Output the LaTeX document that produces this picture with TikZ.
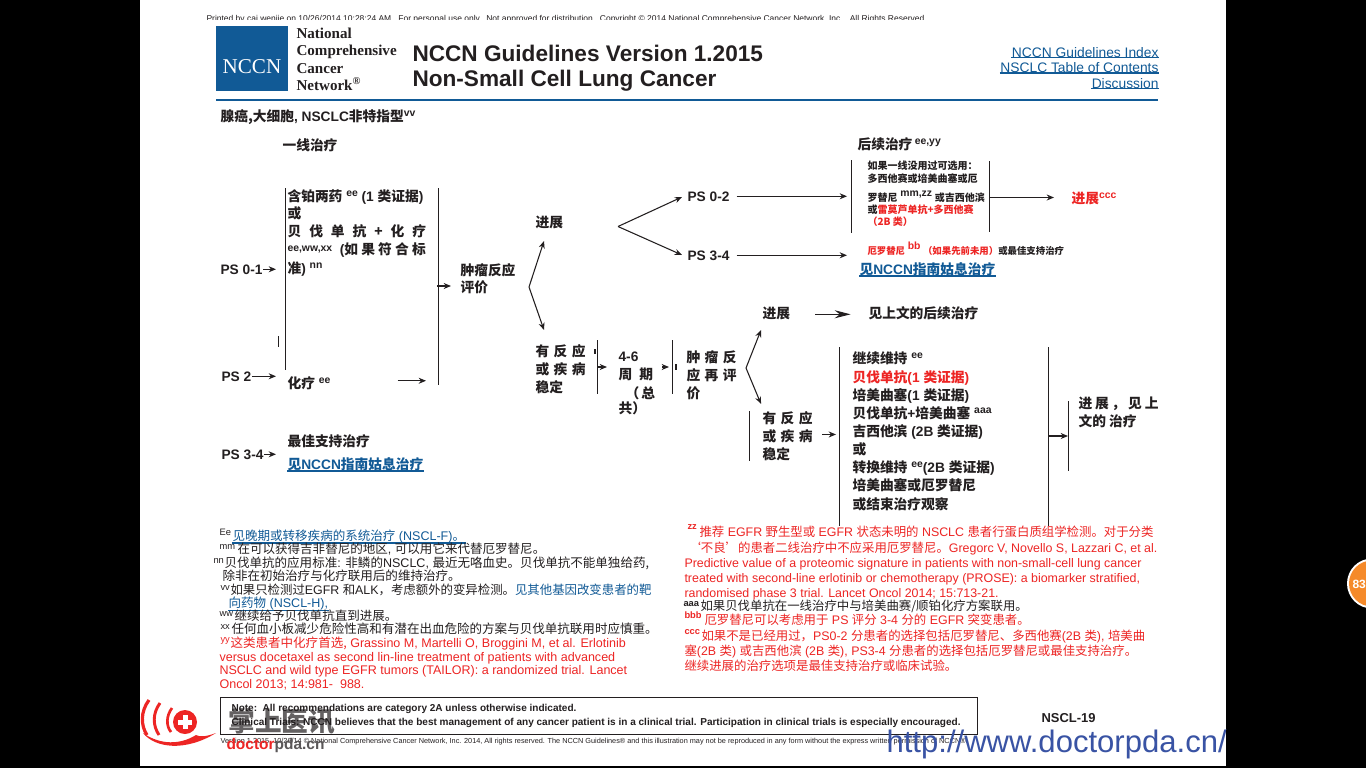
\documentclass[tikz,border=0pt]{standalone}
\usepackage{fontspec}
\setmainfont{Liberation Sans}
\newfontfamily\cjk{Noto Sans CJK SC}
\newfontfamily\logoserif{Liberation Serif}
\usetikzlibrary{arrows,arrows.meta}
\definecolor{nccnblue}{HTML}{115A96}
\definecolor{nccnred}{HTML}{ED2524}
\definecolor{inkblack}{HTML}{231F20}
\definecolor{webblue}{HTML}{3953A4}
\definecolor{badgeorange}{HTML}{F58A2A}
\newcommand{\zh}[1]{{\cjk #1}}
\newcommand{\spread}[2]{\makebox[#1][s]{\zh{#2}}}
\newcommand{\sps}[1]{\raisebox{3.6pt}{\fontsize{7.8}{9}\selectfont #1}}

\begin{document}
\begin{tikzpicture}[x=.75pt,y=-.75pt,->,>={Stealth[length=5.5pt,width=4.5pt]},line width=.8pt,color=inkblack]
	\tikzstyle{every node}=[inner sep=0pt,text=inkblack]
	\tikzstyle{lbl}=[anchor=base west,font=\fontsize{10.3}{12}\selectfont\bfseries]
	\tikzstyle{tiny}=[anchor=base west,font=\fontsize{7.5}{9}\selectfont\bfseries]
	\tikzstyle{foot}=[anchor=base west,font=\fontsize{9.4}{11}\selectfont]
	\tikzstyle{footr}=[anchor=base west,font=\fontsize{9.3}{11}\selectfont]
	\tikzstyle{sup}=[anchor=base west,font=\fontsize{7}{8}\selectfont]
	\tikzstyle{supb}=[anchor=base west,font=\fontsize{7}{8}\selectfont\bfseries]
	\tikzstyle{link}=[text=nccnblue]
	\tikzstyle{alert}=[text=nccnred]
	\tikzstyle{bar}=[-,line width=.9pt]
	\tikzstyle{rule}=[-,draw=nccnblue,line width=1.1pt]
	\useasboundingbox (0,0) rectangle (1366,768);

	% page
	\fill[black] (0,0) rectangle (1366,768);
	\fill[white] (140,0) rectangle (1226,766);

	% header
	\node[anchor=base west,font=\fontsize{6.36}{8}\selectfont] (printed) at (206,21) {Printed by cai wenjie on 10/26/2014 10:28:24 AM.\ \ For personal use only.\ \ Not approved for distribution.\ \ Copyright © 2014 National Comprehensive Cancer Network, Inc.,\ \ All Rights Reserved.};
	\fill[white] (200,20) rectangle (930,25);
	\fill[nccnblue] (216,26) rectangle (288,91);
	\node[text=white,font=\logoserif\fontsize{15.8}{18}\selectfont] (logo) at (252,66.5) {NCCN};
	\node[anchor=base west,font=\logoserif\fontsize{11.3}{13}\selectfont\bfseries] (org1) at (296,38) {National};
	\node[anchor=base west,font=\logoserif\fontsize{11.3}{13}\selectfont\bfseries] (org2) at (296,55) {Comprehensive};
	\node[anchor=base west,font=\logoserif\fontsize{11.3}{13}\selectfont\bfseries] (org3) at (296,73) {Cancer};
	\node[anchor=base west,font=\logoserif\fontsize{11.3}{13}\selectfont\bfseries] (org4) at (296,90) {Network\textsuperscript{®}};
	\node[anchor=base west,font=\fontsize{16.95}{20}\selectfont\bfseries] (title1) at (412,61) {NCCN Guidelines Version 1.2015};
	\node[anchor=base west,font=\fontsize{16.95}{20}\selectfont\bfseries] (title2) at (412,86) {Non-Small Cell Lung Cancer};
	\node[anchor=base east,link,font=\fontsize{10.35}{12}\selectfont] (idx) at (1159,57) {NCCN Guidelines Index};
	\node[anchor=base east,link,font=\fontsize{10.35}{12}\selectfont] (toc) at (1159,72.5) {NSCLC Table of Contents};
	\node[anchor=base east,link,font=\fontsize{10.35}{12}\selectfont] (disc) at (1159,88) {Discussion};
	\draw[rule] (idx.south west) -- (idx.south east);
	\draw[rule] (toc.south west) -- (toc.south east);
	\draw[rule] (disc.south west) -- (disc.south east);
	\coordinate (hrl) at (216,100);
	\coordinate (hrr) at (1158,100);
	\draw[rule,line width=2.2pt] (hrl) -- (hrr);
	\node[lbl] (sub) at (220,121) {\zh{腺癌,大细胞}, NSCLC\zh{非特指型}\sps{vv}};
	\node[lbl] (first) at (282,150) {\zh{一线治疗}};
	\node[lbl] (later) at (857,149) {\zh{后续治疗}\,\sps{ee,yy}};

	% first line
	\node[lbl] (ps01) at (220,274) {PS 0-1};
	\node[lbl] (ps2) at (221,381) {PS 2};
	\node[lbl] (ps34) at (221,459) {PS 3-4};
	\node[lbl] (a1) at (287,201) {\zh{含铂两药} \sps{ee} (1 \zh{类证据})};
	\node[lbl] (a2) at (287,218) {\zh{或}};
	\node[lbl] (a3) at (287,236) {\spread{104pt}{贝 伐 单 抗 + 化 疗}};
	\node[lbl] (a4) at (287,254) {\raisebox{2pt}{\fontsize{7.8}{9}\selectfont ee,ww,xx}\ \ (\spread{61pt}{如 果 符 合 标}};
	\node[lbl] (a5) at (287,273) {\zh{准}) \sps{nn}};
	\node[lbl] (chemo) at (287,388) {\zh{化疗} \sps{ee}};
	\node[lbl] (bsc) at (287,446) {\zh{最佳支持治疗}};
	\node[lbl,link] (pall1) at (287,469) {\zh{见}NCCN\zh{指南姑息治疗}};
	\draw[rule] (pall1.south west) -- (pall1.south east);
	\coordinate (barat) at (285.5,188);
	\coordinate (barab) at (285.5,370);
	\coordinate (barbt) at (438.5,188);
	\coordinate (barbb) at (438.5,385);
	\coordinate (ticka) at (278.5,336);
	\coordinate (tickb) at (278.5,347);
	\draw[bar] (barat) -- (barab);
	\draw[bar] (barbt) -- (barbb);
	\draw[bar] (ticka) -- (tickb);
	\coordinate (pse) at (276,0);
	\coordinate (chemoe) at (426,0);
	\path (ps01.east) edge (ps01.east -| pse)
	      (ps2.east) edge (ps2.east -| pse)
	      (ps34.east) edge (ps34.east -| pse);
	\draw[shorten <=50pt] ([yshift=1.5pt]chemo.east) -- ([yshift=1.5pt]chemo.east -| chemoe);

	% response
	\node[lbl] (eval1) at (460,275) {\spread{43.5pt}{肿瘤反应}};
	\node[lbl] (eval2) at (460,292) {\zh{评价}};
	\node[lbl] (prog1) at (535,227) {\zh{进展}};
	\node[lbl] (resp1) at (535,356) {\spread{37.5pt}{有 反 应}};
	\node[lbl] (resp2) at (535,374) {\spread{37.5pt}{或 疾 病}};
	\node[lbl] (resp3) at (535,392) {\zh{稳定}};
	\coordinate (evalb) at (437,286);
	\coordinate (evalt) at (451,286);
	\coordinate (forka) at (529,287);
	\coordinate (forkau) at (544,241);
	\coordinate (forkad) at (544,330);
	\coordinate (forkb) at (618,226.5);
	\coordinate (forkbu) at (682,197);
	\coordinate (forkbd) at (682,255);
	\path (evalb) edge (evalt)
	      (forka) edge (forkau)
	      (forka) edge (forkad)
	      (forkb) edge (forkbu)
	      (forkb) edge (forkbd);

	% subsequent therapy
	\node[lbl] (ps02b) at (687,201) {PS 0-2};
	\node[lbl] (ps34b) at (687,260) {PS 3-4};
	\coordinate (subin) at (847,0);
	\draw[shorten <=5pt] (ps02b.east) -- (ps02b.east -| subin);
	\draw[shorten <=5pt] (ps34b.east) -- (ps34b.east -| subin);
	\coordinate (barct) at (851.5,160);
	\coordinate (barcb) at (851.5,233);
	\coordinate (bardt) at (989.5,161);
	\coordinate (bardb) at (989.5,232);
	\draw[bar] (barct) -- (barcb);
	\draw[bar] (bardt) -- (bardb);
	\node[tiny] (s1) at (867,169.5) {\zh{如果一线没用过可选用：}};
	\node[tiny] (s2) at (867,182) {\zh{多西他赛或培美曲塞或厄}};
	\node[tiny] (s3) at (867,201) {\zh{罗替尼} \raisebox{3.5pt}{\fontsize{7.8}{9}\selectfont mm,zz} \zh{或吉西他滨}};
	\node[tiny] (s4) at (867,213) {\zh{或}{\color{nccnred}\zh{雷莫芦单抗+多西他赛}}};
	\node[tiny,alert] (s5) at (867,225) {\zh{（2B 类）}};
	\node[tiny,font=\fontsize{7.05}{9}\selectfont\bfseries] (s6) at (867,254) {{\color{nccnred}\zh{厄罗替尼} \raisebox{3.5pt}{\fontsize{7.8}{9}\selectfont bb}\ \zh{（如果先前未用）}}\zh{或最佳支持治疗}};
	\node[lbl,link] (pall2) at (859,274) {\zh{见}NCCN\zh{指南姑息治疗}};
	\draw[rule] (pall2.south west) -- (pall2.south east);
	\coordinate (barm) at (990,197.5);
	\coordinate (barn) at (1054,197.5);
	\draw (barm) -- (barn);
	\node[lbl,alert] (prog2) at (1071,203) {\zh{进展}\sps{ccc}};

	% maintenance
	\coordinate (bare) at (597.5,340);
	\coordinate (barf) at (597.5,394);
	\coordinate (barg) at (672.5,340);
	\coordinate (barh) at (672.5,394);
	\coordinate (tickc) at (595,349);
	\coordinate (tickd) at (595,354);
	\coordinate (ticke) at (676,364);
	\coordinate (tickf) at (676,370);
	\draw[bar] (bare) -- (barf);
	\draw[bar] (barg) -- (barh);
	\draw[bar] (tickc) -- (tickd);
	\draw[bar] (ticke) -- (tickf);
	\coordinate (cyca) at (598,367);
	\coordinate (cycb) at (607,367);
	\coordinate (cycc) at (662,367);
	\coordinate (cycd) at (669,367);
	\path (cyca) edge (cycb)
	      (cycc) edge (cycd);
	\node[lbl] (cyc1) at (618,361) {4-6};
	\node[lbl] (cyc2) at (618,379) {\spread{26pt}{周 期}};
	\node[lbl] (cyc3) at (625,398) {\spread{21pt}{（ 总}};
	\node[lbl] (cyc4) at (618,413) {\zh{共）}};
	\node[lbl] (re1) at (686,362) {\spread{37.5pt}{肿 瘤 反}};
	\node[lbl] (re2) at (686,380) {\spread{37.5pt}{应 再 评}};
	\node[lbl] (re3) at (686,398) {\zh{价}};
	\coordinate (forkc) at (746,368);
	\coordinate (forkcu) at (761,330);
	\coordinate (forkcd) at (761,404);
	\path (forkc) edge (forkcu)
	      (forkc) edge (forkcd);
	\node[lbl] (prog3) at (762,318) {\zh{进展}};
	\node[lbl] (seeup) at (868,318) {\zh{见上文的后续治疗}};
	\draw[-{Stealth[length=12pt,width=6pt]},shorten <=18.5pt,shorten >=13pt] ([yshift=-1pt]prog3.east) -- ([yshift=-1pt]prog3.east -| seeup.west);
	\coordinate (bari) at (749.5,411);
	\coordinate (barj) at (749.5,461);
	\draw[bar] (bari) -- (barj);
	\node[lbl] (st1) at (762,423) {\spread{37.5pt}{有 反 应}};
	\node[lbl] (st2) at (762,441) {\spread{37.5pt}{或 疾 病}};
	\node[lbl] (st3) at (762,459) {\zh{稳定}};
	\coordinate (stb) at (836,0);
	\draw[shorten <=7pt] ([yshift=1pt]st2.east) -- ([yshift=1pt]st2.east -| stb);
	\coordinate (bark) at (839.5,347);
	\coordinate (barl) at (839.5,526);
	\coordinate (barp) at (1048.5,347);
	\coordinate (barq) at (1048.5,526);
	\draw[bar] (bark) -- (barl);
	\draw[bar] (barp) -- (barq);
	\node[lbl] (m1) at (852,363) {\zh{继续维持} \sps{ee}};
	\node[lbl,alert] (m2) at (852,382) {\zh{贝伐单抗}(1 \zh{类证据})};
	\node[lbl] (m3) at (852,400) {\zh{培美曲塞}(1 \zh{类证据})};
	\node[lbl] (m4) at (852,418) {\zh{贝伐单抗}+\zh{培美曲塞} \sps{aaa}};
	\node[lbl] (m5) at (852,436) {\zh{吉西他滨} (2B \zh{类证据})};
	\node[lbl] (m6) at (852,454) {\zh{或}};
	\node[lbl] (m7) at (852,472) {\zh{转换维持} \sps{ee}(2B \zh{类证据})};
	\node[lbl] (m8) at (852,490) {\zh{培美曲塞或厄罗替尼}};
	\node[lbl] (m9) at (852,509) {\zh{或结束治疗观察}};
	\coordinate (barr) at (1049,436);
	\coordinate (bars) at (1068,436);
	\draw (barr) -- (bars);
	\coordinate (bart) at (1068.5,401);
	\coordinate (baru) at (1068.5,471);
	\draw[bar] (bart) -- (baru);
	\node[lbl] (end1) at (1078,408) {\spread{60pt}{进 展 ， 见 上}};
	\node[lbl] (end2) at (1078,426) {\zh{文的 治疗}};

	% footnotes, left column
	\node[sup] (fe) at (219,535) {Ee};
	\node[foot,link] (f1) at (232,540) {\zh{见晚期或转移疾病的系统治疗} (NSCL-F)\zh{。}};
	\draw[rule] (f1.south west) -- (f1.south east);
	\node[sup] (fm) at (219,549) {mm};
	\node[foot] (f2) at (237,553.5) {\zh{在可以获得吉非替尼的地区}, \zh{可以用它来代替厄罗替尼。}};
	\node[sup] (fn) at (213,563) {nn};
	\node[foot] (f3) at (224,567.5) {\zh{贝伐单抗的应用标准}: \zh{非鳞的}NSCLC, \zh{最近无咯血史。贝伐单抗不能单独给药,}};
	\node[foot] (f4) at (222,580.5) {\zh{除非在初始治疗与化疗联用后的维持治疗。}};
	\node[sup] (fv) at (220,590) {vv};
	\node[foot,font=\fontsize{9.3}{11}\selectfont] (f5) at (230,594.5) {\zh{如果只检测过}EGFR \zh{和}ALK\zh{，考虑额外的变异检测。}{\color{nccnblue}\zh{见其他基因改变患者的靶}}};
	\node[foot,link] (f6) at (228,607.5) {\zh{向药物} (NSCL-H),};
	\draw[rule] (f6.south west) -- (f6.south east);
	\node[sup] (fw) at (219,616) {ww};
	\node[foot] (f7) at (234,620.5) {\zh{继续给予贝伐单抗直到进展。}};
	\node[sup] (fx) at (220,629) {xx};
	\node[foot] (f8) at (231,633.5) {\zh{任何血小板减少危险性高和有潜在出血危险的方案与贝伐单抗联用时应慎重。}};
	\node[sup,alert] (fy) at (220,642) {yy};
	\node[foot,alert] (f9) at (230,647.5) {\zh{这类患者中化疗首选,} Grassino M, Martelli O, Broggini M, et al. Erlotinib};
	\node[foot,alert] (f10) at (219,661) {versus docetaxel as second lin-line treatment of patients with advanced};
	\node[foot,alert] (f11) at (219,674.5) {NSCLC and wild type EGFR tumors (TAILOR): a randomized trial. Lancet};
	\node[foot,alert] (f12) at (219,688) {Oncol 2013; 14:981-\ \ 988.};

	% footnotes, right column
	\node[supb,alert] (fz) at (687,529) {zz};
	\node[footr,alert] (g1) at (699,536.5) {\zh{推荐} EGFR \zh{野生型或} EGFR \zh{状态未明的} NSCLC \zh{患者行蛋白质组学检测。对于分类}};
	\node[footr,alert] (g2) at (688,552.5) {\zh{‘不良’的患者二线治疗中不应采用厄罗替尼。}Gregorc V, Novello S, Lazzari C, et al.};
	\node[footr,alert] (g3) at (684,567.5) {Predictive value of a proteomic signature in patients with non-small-cell lung cancer};
	\node[footr,alert] (g4) at (684,582.5) {treated with second-line erlotinib or chemotherapy (PROSE): a biomarker stratified,};
	\node[footr,alert] (g5) at (684,597.5) {randomised phase 3 trial. Lancet Oncol 2014; 15:713-21.};
	\node[supb] (ga) at (683,606) {aaa};
	\node[footr] (g6) at (700,610.5) {\zh{如果贝伐单抗在一线治疗中与培美曲赛/顺铂化疗方案联用。}};
	\node[supb,alert] (gb) at (684,618) {bbb};
	\node[footr,alert] (g7) at (704,624.5) {\zh{厄罗替尼可以考虑用于} PS \zh{评分} 3-4 \zh{分的} EGFR \zh{突变患者。}};
	\node[supb,alert] (gc) at (684,634) {ccc};
	\node[footr,alert] (g8) at (701,640.5) {\zh{如果不是已经用过，}PS0-2 \zh{分患者的选择包括厄罗替尼、多西他赛}(2B \zh{类}), \zh{培美曲}};
	\node[footr,alert] (g9) at (684,655.5) {\zh{塞}(2B \zh{类}) \zh{或吉西他滨} (2B \zh{类}), PS3-4 \zh{分患者的选择包括厄罗替尼或最佳支持治疗。}};
	\node[footr,alert] (g10) at (684,670.5) {\zh{继续进展的治疗选项是最佳支持治疗或临床试验。}};

	% note box and footer
	\coordinate (boxa) at (220,697);
	\coordinate (boxb) at (977,734);
	\draw[-,line width=.7pt] (boxa) rectangle (boxb);
	\node[anchor=base west,font=\fontsize{7.52}{9}\selectfont\bfseries] (note1) at (231,711.5) {Note:\ \ All recommendations are category 2A unless otherwise indicated.};
	\node[anchor=base west,font=\fontsize{7.52}{9}\selectfont\bfseries] (note2) at (231,725.5) {Clinical Trials: NCCN believes that the best management of any cancer patient is in a clinical trial. Participation in clinical trials is especially encouraged.};
	\node[anchor=base west,font=\fontsize{9.7}{11}\selectfont\bfseries] (page) at (1041,722) {NSCL-19};
	\node[anchor=base west,font=\fontsize{5.48}{7}\selectfont] (ver) at (220,743.5) {Version 1.2015, 10/26/14 © National Comprehensive Cancer Network, Inc. 2014, All rights reserved. The NCCN Guidelines® and this illustration may not be reproduced in any form without the express written permission of NCCN®.};

	% watermark
	\draw[-,draw=nccnred,line width=2pt] (172,708) .. controls (166,716) and (166,726) .. (171,732);
	\draw[-,draw=nccnred,line width=2.2pt] (160,703) .. controls (152,714) and (153,726) .. (159,735);
	\draw[-,draw=nccnred,line width=2.4pt] (149,700) .. controls (140,712) and (141,726) .. (147,735);
	\fill[nccnred] (143,733) .. controls (155,748) and (185,752) .. (216,733) .. controls (205,737) and (200,737) .. (196,735) .. controls (180,745) and (160,745) .. (143,733);
	\fill[nccnred] (185,722) circle (12);
	\fill[white] (178,719.5) rectangle (192,724.5);
	\fill[white] (182.5,715) rectangle (187.5,729);
	\node[anchor=base west,opacity=.7,font=\cjk\fontsize{20}{24}\selectfont\bfseries] (brand) at (228,731) {掌上医讯};
	\node[anchor=base west,font=\fontsize{11.6}{15}\selectfont\bfseries] (site) at (226,749) {{\color{nccnred}doctor}{\color{inkblack!75}pda.cn}};
	\node[anchor=base west,text=webblue,font=\fontsize{23.3}{26}\selectfont] (url) at (886,752) {http://www.doctorpda.cn/};
	\fill[black] (1226,730) rectangle (1300,768);

	% page badge
	\fill[white] (1372,583.5) circle (25);
	\fill[badgeorange] (1372,583.5) circle (23);
	\node[anchor=base west,text=white,font=\fontsize{9}{11}\selectfont\bfseries] (badge) at (1352,588) {83};
\end{tikzpicture}
\end{document}
